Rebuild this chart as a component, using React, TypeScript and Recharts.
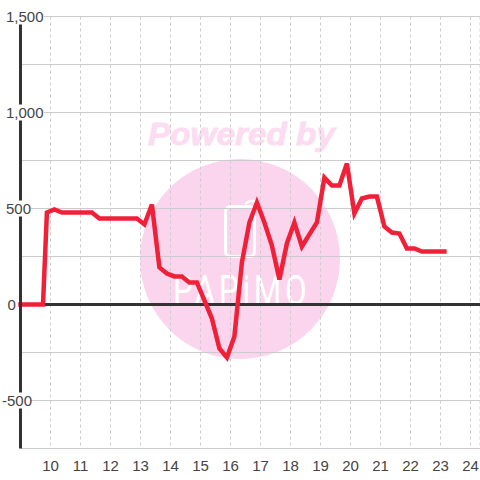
import { LineChart, Line, XAxis, YAxis, CartesianGrid, ReferenceLine } from 'recharts'

// Hour of day for each sample
const hours = [
  9.0, 9.75, 9.88, 10.13, 10.38, 10.63, 10.88, 11.13, 11.38, 11.63, 11.88, 12.13, 12.38, 12.63, 12.88, 13.13,
  13.38, 13.63, 13.88, 14.13, 14.38, 14.63, 14.88, 15.13, 15.38, 15.63, 15.88, 16.13, 16.38, 16.63, 16.88,
  17.13, 17.38, 17.63, 17.88, 18.13, 18.38, 18.63, 18.88, 19.13, 19.38, 19.63, 19.88, 20.13, 20.38, 20.63,
  20.88, 21.13, 21.38, 21.63, 21.88, 22.13, 22.38, 22.63, 22.88, 23.13
]
const values = [
  0, 0, 479, 495, 479, 479, 479, 479, 479, 448, 448, 448, 448, 448, 448, 417, 521,
  193, 161, 146, 146, 115, 115, 21, -73, -229, -276, -167, 219, 427, 531,
  427, 307, 130, 318, 427, 302, 365, 427, 661, 620, 620, 734, 474, 552, 562, 562,
  406, 375, 370, 292, 292, 276, 276, 276, 276
]
const xTicks = [10, 11, 12, 13, 14, 15, 16, 17, 18, 19, 20, 21, 22, 23, 24]
const yTicks = [-750, -500, -250, 0, 250, 500, 750, 1000, 1250, 1500]

const data = hours.map((hour, i) => ({ hour, value: values[i] }))

// Labels sit on a white patch that cuts the axis and the grid
function YTick({ y, payload }: any) {
  const v = payload.value
  if (v % 500 !== 0) return <g />
  const label = v.toLocaleString('en-US')
  const left = v === 0 ? 7.5 : v < 0 ? 2 : 6
  const w = v === 0 ? 10 : v < 0 ? 29 : v >= 1000 ? 38 : 25
  return (
    <g>
      <rect x={left} y={y - 8} width={w} height={16} fill="#fff" />
      <text x={left} y={y + 5.5} fontSize={15} fill="#444" fontFamily="Liberation Sans, Arial, sans-serif">{label}</text>
    </g>
  )
}

function Watermark() {
  return (
    <svg width={480} height={480} style={{ position: 'absolute', left: 0, top: 0 }}>
      <rect width={480} height={480} fill="#fff" />
      <text
        x={148}
        y={145}
        fontSize={31}
        fontWeight="bold"
        fontStyle="italic"
        fill="#fcdcf0"
        stroke="#fcdcf0"
        strokeWidth={0.8}
        fontFamily="Liberation Sans, Arial, sans-serif"
        textLength={187}
        lengthAdjust="spacingAndGlyphs"
      >
        Powered by
      </text>
      <circle cx={240} cy={259} r={100} fill="#fbd5ed" />
      <rect x={225.5} y={206.5} width={29} height={50} rx={5} fill="none" stroke="#fff" strokeWidth={3} />
      <path d="M245 204 L250 201 L255 201 L255 208" fill="none" stroke="#fff" strokeWidth={2.5} />
      <text
        transform="translate(173,305) scale(0.75,1)"
        fontSize={42}
        fill="#fff"
        fontFamily="Roboto, sans-serif"
        letterSpacing={5}
      >
        PAPiMO
      </text>
    </svg>
  )
}

export default function App() {
  return (
    <div style={{ position: 'absolute', left: 0, top: 0, width: 480, height: 480 }}>
      <Watermark />
      <div style={{ position: 'absolute', left: 0, top: 0 }}>
        <LineChart width={480} height={480} data={data} margin={{ top: 16.5, right: 0, bottom: 0, left: 0 }}>
          <CartesianGrid stroke="#ccc" strokeDasharray="3 3" horizontal={false} />
          <CartesianGrid stroke="#ccc" vertical={false} />
          <XAxis
            dataKey="hour"
            type="number"
            domain={[9, 24.3167]}
            ticks={xTicks}
            interval={0}
            height={31.5}
            axisLine={false}
            tickLine={false}
            tickMargin={6}
            tick={{ fontSize: 15, fill: '#444', fontFamily: 'Liberation Sans, Arial, sans-serif' }}
          />
          <YAxis
            type="number"
            domain={[-750, 1500]}
            ticks={yTicks}
            interval={0}
            width={20.5}
            tickLine={false}
            axisLine={{ stroke: '#333', strokeWidth: 3 }}
            tick={<YTick />}
          />
          <ReferenceLine y={0} stroke="#333" strokeWidth={3} />
          <Line
            dataKey="value"
            type="linear"
            stroke="#f02038"
            strokeWidth={4.5}
            strokeLinecap="square"
            strokeLinejoin="miter"
            dot={false}
            activeDot={false}
            isAnimationActive={false}
          />
        </LineChart>
      </div>
    </div>
  )
}
